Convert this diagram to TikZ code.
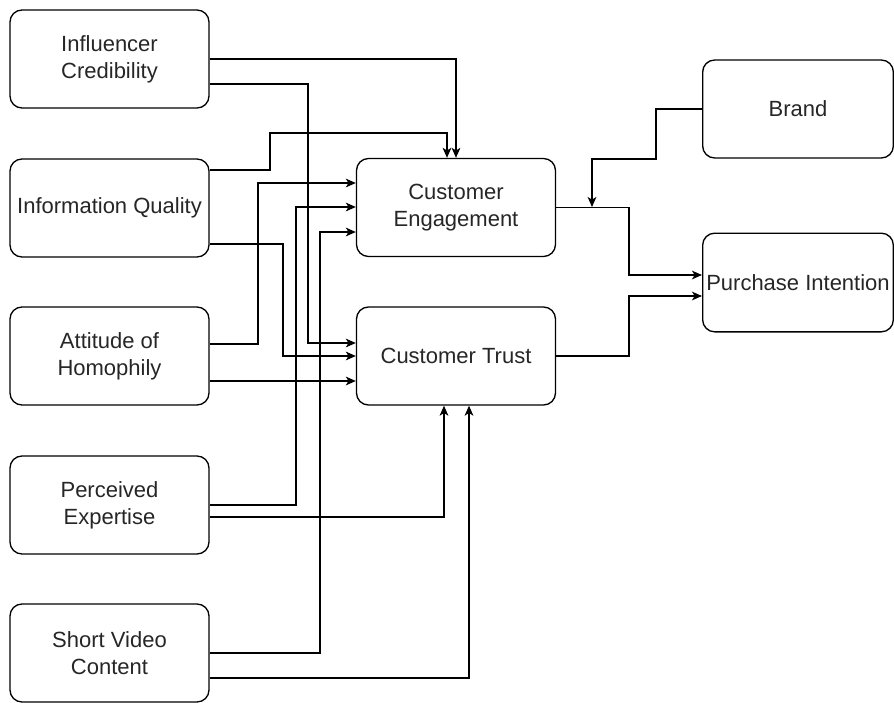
\documentclass[tikz,border=0pt]{standalone}
\usepackage{fontspec}
\setmainfont{Liberation Sans}
\usetikzlibrary{arrows.meta}
\begin{document}
\begin{tikzpicture}[x=0.75pt,y=-0.75pt,
  box/.style={draw=black, line width=1pt, rounded corners=9pt, align=center,
    minimum width=149.25pt, minimum height=73.5pt, inner sep=0pt,
    font=\fontsize{16.5}{20}\selectfont, text=black!85},
  arr/.style={draw=black, line width=1pt, -{Stealth[length=7.5pt,width=6.5pt,inset=2pt]}}]
\useasboundingbox (0,0) rectangle (894,703);
% left column
\node[box] (ic) at (109.5,59) {Influencer\\Credibility};
\node[box] (iq) at (109.5,208) {Information Quality};
\node[box] (ah) at (109.5,356) {Attitude of\\Homophily};
\node[box] (pe) at (109.5,505) {Perceived\\Expertise};
\node[box] (sv) at (109.5,653) {Short Video\\Content};
% middle
\node[box] (ce) at (456,207.5) {Customer\\Engagement};
\node[box] (ct) at (456,356) {Customer Trust};
% right
\node[box, minimum width=143pt] (br) at (798,109) {Brand};
\node[box, minimum width=143pt, minimum height=74pt] (pi) at (798,282.5) {Purchase Intention};
\coordinate (j) at (592,207);
% connectors to Customer Engagement / Trust
\draw[arr] (ic.east) -| (ce.north);
\draw[arr] (ic.east |- 0,84) -| (308,343) -- (ct.west |- 0,343);
\draw[arr] (iq.east |- 0,170) -| (270,133) -| (ce.north -| 447,0);
\draw[arr] (iq.east |- 0,244) -| (283,356) -- (ct.west |- 0,356);
\draw[arr] (ah.east |- 0,344) -| (258,183) -- (ce.west |- 0,183);
\draw[arr] (ah.east |- 0,381) -- (ct.west |- 0,381);
\draw[arr] (pe.east |- 0,505) -| (296,207) -- (ce.west |- 0,207);
\draw[arr] (pe.east |- 0,517) -| (ct.south -| 444,0);
\draw[arr] (sv.east |- 0,653) -| (320,232) -- (ce.west |- 0,232);
\draw[arr] (sv.east |- 0,678) -| (ct.south -| 469,0);
% to Purchase Intention
\draw[arr] (ce.east) -| (629,275) -- (pi.west |- 0,275);
\draw[arr] (ct.east) -| (629,296) -- (pi.west |- 0,296);
% Brand moderation
\draw[arr] (br.west) -| (656,159) -| (j);
\end{tikzpicture}
\end{document}
